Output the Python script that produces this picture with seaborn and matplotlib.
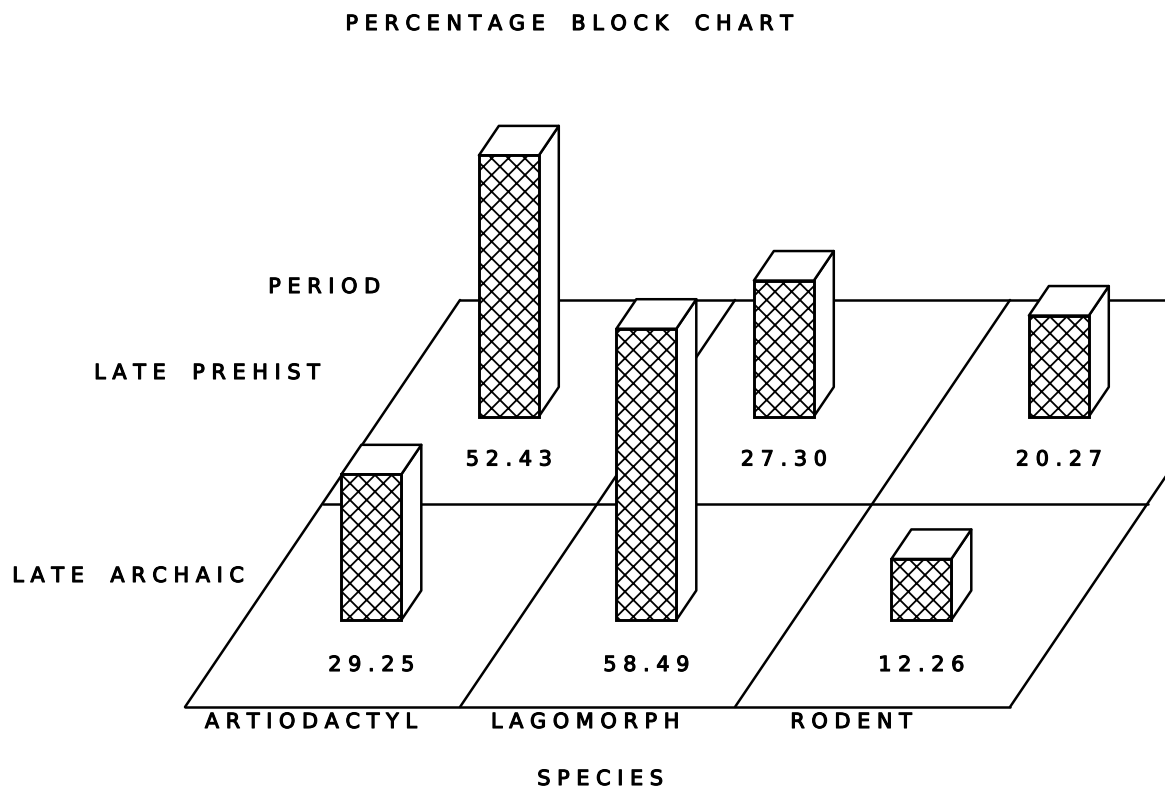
import matplotlib
matplotlib.use("Agg")
import matplotlib.pyplot as plt
import matplotlib.patheffects as pe
from matplotlib.patches import Polygon, Rectangle
import pandas as pd
import seaborn as sns

species = ["ARTIODACTYL", "LAGOMORPH", "RODENT"]
periods = ["LATE ARCHAIC", "LATE PREHIST"]
late_archaic = [29.25, 58.49, 12.26]
late_prehist = [52.43, 27.30, 20.27]
title = "PERCENTAGE BLOCK CHART"
row_axis_label = "PERIOD"
col_axis_label = "SPECIES"

# Oblique projection: x axis is in column units, y axis in percent units.
PX_PER_COL = 275.0
PX_PER_PCT = 4.98
ROW_DX = 0.5
ROW_DY = 203.5 / PX_PER_PCT
BAR_W = 0.218
BAR_DEPTH = 0.145
BAR_LEFT = 0.355
BAR_ROW_OFFSET = 0.4275
FS = 15
HEAVY = [pe.withStroke(linewidth=0.8, foreground="black")]


def proj(col, row, h=0.0):
    return col + ROW_DX * row, ROW_DY * row + h


def spaced(s):
    return " ".join(w for w in " ".join(s).split("   ")) if False else " ".join(s).replace("   ", "    ")


sns.set_theme(style="white")
plt.rcParams["font.family"] = ["DejaVu Sans"]
plt.rcParams["hatch.linewidth"] = 1.3
plt.rcParams["hatch.color"] = "black"

fig = plt.figure(figsize=(11.69, 7.91), dpi=100, facecolor="white")
ax = fig.add_axes([0, 0, 1, 1])

LW = 1.8
clip = Rectangle((-185 / PX_PER_COL, -20), 1165 / PX_PER_COL, 200, transform=ax.transData)

# floor grid
for r in range(3):
    xs, ys = zip(proj(0, r), proj(3, r))
    ln, = ax.plot(xs, ys, color="black", lw=LW, zorder=1, solid_capstyle="round")
    ln.set_clip_path(clip)
for c in range(4):
    xs, ys = zip(proj(c, 0), proj(c, 2))
    ln, = ax.plot(xs, ys, color="black", lw=LW, zorder=1, solid_capstyle="round")
    ln.set_clip_path(clip)

# blocks, back row first
rows = [(1, late_prehist, 3, 43), (0, late_archaic, 5, 45)]
for r, vals, z, label_gap in rows:
    rf = r + BAR_ROW_OFFSET
    lefts = [proj(c + BAR_LEFT, rf)[0] for c in range(3)]
    base = proj(0, rf)[1]
    df = pd.DataFrame({"x": [l + BAR_W / 2 for l in lefts], "pct": vals})
    n_before = len(ax.patches)
    sns.barplot(data=df, x="x", y="pct", native_scale=True, width=BAR_W, color="white",
                saturation=1, errorbar=None, bottom=base, ax=ax, zorder=z + 0.5)
    for p in ax.patches[n_before:]:
        p.set_hatch("xx")
        p.set_edgecolor("black")
        p.set_linewidth(LW + 0.3)
        p.set_zorder(z + 0.5)
    for c, v in enumerate(vals):
        fbr = proj(c + BAR_LEFT + BAR_W, rf)
        bbr = proj(c + BAR_LEFT + BAR_W, rf + BAR_DEPTH)
        ftl = proj(c + BAR_LEFT, rf, v)
        ftr = proj(c + BAR_LEFT + BAR_W, rf, v)
        btr = proj(c + BAR_LEFT + BAR_W, rf + BAR_DEPTH, v)
        btl = proj(c + BAR_LEFT, rf + BAR_DEPTH, v)
        for pts in ([fbr, bbr, btr, ftr], [ftl, btl, btr, ftr]):
            ax.add_patch(Polygon(pts, closed=True, facecolor="white", edgecolor="black",
                                 lw=LW, zorder=z, joinstyle="round"))
        tx, ty = proj(c + BAR_LEFT + BAR_W / 2, rf, 0)
        ax.text(tx, ty - label_gap / PX_PER_PCT, spaced(f"{v:.2f}"), ha="center", va="center",
                fontsize=FS, color="black", zorder=8, path_effects=HEAVY)

ax.set_xlim(-185 / PX_PER_COL, (1169 - 185) / PX_PER_COL)
ax.set_ylim((707 - 791) / PX_PER_PCT, 707 / PX_PER_PCT)
ax.axis("off")


def label(px, py, s):
    fig.text(px / 1169, 1 - py / 791, spaced(s), ha="center", va="center",
             fontsize=FS, color="black", path_effects=HEAVY)


label(569, 24, title)
label(324, 287, row_axis_label)
label(207, 373, periods[1])
label(128, 576, periods[0])
label(311, 722, species[0])
label(585, 722, species[1])
label(851, 722, species[2])
label(600, 779, col_axis_label)

fig.savefig("out.png", dpi=100, facecolor="white")
